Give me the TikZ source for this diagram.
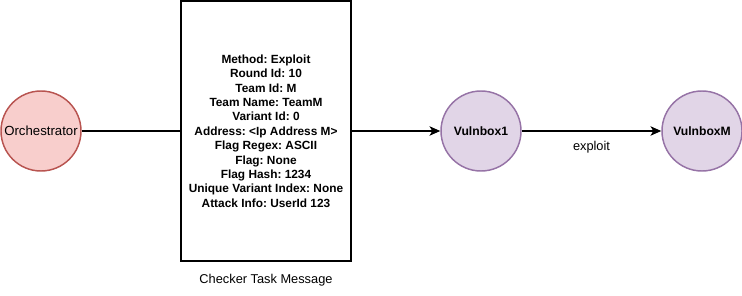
\documentclass[tikz,border=0pt]{standalone}
\usepackage{fontspec}
\setmainfont{Liberation Sans}
\frenchspacing
\usetikzlibrary{arrows.meta,positioning}
\definecolor{orchfill}{HTML}{F8CECC}
\definecolor{orchedge}{HTML}{B85450}
\definecolor{vulnfill}{HTML}{E1D5E7}
\definecolor{vulnedge}{HTML}{9673A6}

\begin{document}
\begin{tikzpicture}[x=0.75pt,y=-0.75pt,
  orch/.style={circle,draw=orchedge,fill=orchfill,line width=1.1pt,minimum size=60pt,inner sep=0pt,font=\fontsize{9.9}{11}\selectfont},
  vuln/.style={circle,draw=vulnedge,fill=vulnfill,line width=1.1pt,minimum size=60pt,inner sep=0pt,font=\fontsize{9.1}{10}\selectfont\bfseries},
  msg/.style={draw,line width=1.1pt,minimum width=127.5pt,minimum height=195pt,inner sep=0pt,align=center,font=\fontsize{8.9}{10.8}\selectfont\bfseries},
  link/.style={line width=1.1pt},
  lbl/.style={font=\fontsize{9.6}{11}\selectfont}]
\useasboundingbox (0,0) rectangle (742,296);
\node[orch] (orch) at (41,131) {Orchestrator};
\node[msg] (task) at (266,131) {Method: Exploit\\Round Id: 10\\Team Id: M\\Team Name: TeamM\\Variant Id: 0\\Address: <Ip Address M>\\Flag Regex: ASCII\\Flag: None\\Flag Hash: 1234\\Unique Variant Index: None\\Attack Info: UserId 123};
\node[lbl] (caption) at (266,280) {Checker Task Message};
\node[vuln] (vuln1) at (481,131) {Vulnbox1};
\node[vuln] (vulnM) at (702,131) {VulnboxM};
% connectors
\draw[link] (orch) -- (task);
\draw[link,-{Stealth[length=8pt,width=7pt,inset=2pt]}] (task) -- (vuln1);
\draw[link,-{Stealth[length=8pt,width=7pt,inset=2pt]}] (vuln1) -- node[lbl,below=4pt] {exploit} (vulnM);
\end{tikzpicture}
\end{document}
